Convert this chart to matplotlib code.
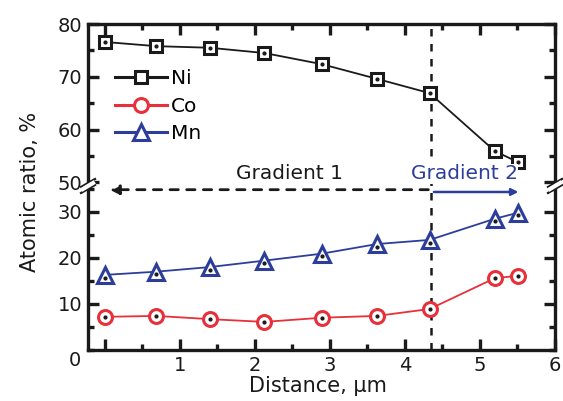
import matplotlib.pyplot as plt
from matplotlib.ticker import MultipleLocator
from matplotlib.lines import Line2D

plt.rcParams['font.family'] = 'DejaVu Sans'

# data
dist = [0.0, 0.69, 1.40, 2.13, 2.89, 3.63, 4.33, 5.20, 5.51]
ni = [76.6, 75.8, 75.5, 74.5, 72.4, 69.6, 66.9, 55.9, 53.8]
co = [7.2, 7.4, 6.7, 6.1, 7.0, 7.4, 8.9, 15.6, 16.1]
mn = [16.3, 17.0, 18.0, 19.4, 20.9, 23.0, 23.9, 28.5, 29.8]
boundary = 4.35

black = "#1a1a1a"
red = "#e8303a"
blue = "#2c3e9a"

W, H = 563, 401
fig = plt.figure(figsize=(W / 100, H / 100), dpi=100)

x0, x1 = 88 / W, 555 / W
ytop, ymid, ybot = 1 - 24 / H, 1 - 186 / H, 1 - 350 / H
ax_top = fig.add_axes([x0, ymid, x1 - x0, ytop - ymid])
ax_bot = fig.add_axes([x0, ybot, x1 - x0, ymid - ybot])

xlim = (-0.22, 6.0)
fs = 14

for ax in (ax_top, ax_bot):
    ax.set_xlim(*xlim)
    for s in ax.spines.values():
        s.set_linewidth(2.4)
        s.set_color(black)
    ax.xaxis.set_major_locator(MultipleLocator(1))
    ax.xaxis.set_minor_locator(MultipleLocator(0.5))
    ax.yaxis.set_major_locator(MultipleLocator(10))
    ax.yaxis.set_minor_locator(MultipleLocator(5))
    ax.tick_params(which='major', direction='in', length=8, width=2.4,
                   labelsize=fs, colors=black, pad=4)
    ax.tick_params(which='minor', direction='in', length=4, width=2.4, colors=black)

ax_top.set_ylim(49.3, 80)
ax_bot.set_ylim(0, 35.6)

ax_top.spines['bottom'].set_visible(False)
ax_bot.spines['top'].set_visible(False)
ax_top.tick_params(which='both', bottom=False, top=True, right=True,
                   labelbottom=False)
ax_top.set_yticks([50, 60, 70, 80])
ax_bot.tick_params(which='both', top=False, right=True)
ax_bot.set_yticks([10, 20, 30])
ax_bot.set_xticks([0, 0.5, 1.5, 2.5, 3.5, 4.5, 5.5], minor=True)
ax_bot.set_xticks([0, 1, 2, 3, 4, 5, 6])
ax_bot.set_xticklabels(['', '1', '2', '3', '4', '5', '6'])

ms = 9
mew = 2.2
# Ni
ax_top.plot(dist, ni, color=black, lw=1.3, marker='s', ms=ms, mfc='white',
            mec=black, mew=mew, zorder=3)
ax_top.plot(dist, ni, ls='none', marker='o', ms=2, color=black, zorder=4)
# Co
ax_bot.plot(dist, co, color=red, lw=1.3, marker='o', ms=ms + 1, mfc='white',
            mec=red, mew=mew, zorder=3)
ax_bot.plot(dist, co, ls='none', marker='o', ms=2, color=black, zorder=4)
# Mn
ax_bot.plot(dist, mn, color=blue, lw=1.3, marker='^', ms=ms + 3, mfc='white',
            mec=blue, mew=mew, zorder=3)
ax_bot.plot(dist, [v - 0.6 for v in mn], ls='none', marker='o',
            ms=2, color=black, zorder=4)

# boundary line
for ax in (ax_top, ax_bot):
    ax.axvline(boundary, color=black, ls=(0, (3, 3)), lw=1.8, zorder=2)

# gradient arrows
ax_bot.annotate('', xy=(0.03, 34.8), xytext=(boundary, 34.8),
                arrowprops=dict(arrowstyle='-|>', color=black, lw=2,
                                ls=(0, (3, 3)), mutation_scale=14), zorder=5)
ax_bot.annotate('', xy=(5.55, 34.3), xytext=(boundary, 34.3),
                arrowprops=dict(arrowstyle='-|>', color=blue, lw=1.8,
                                mutation_scale=10), zorder=5)
ax_top.text(2.47, 49.8, 'Gradient 1', fontsize=fs + 0.5, color=black,
            ha='center', va='bottom', backgroundcolor='white', zorder=6)
ax_top.text(4.79, 49.8, 'Gradient 2', fontsize=fs + 0.5, color=blue,
            ha='center', va='bottom', zorder=6,
            bbox=dict(facecolor='white', edgecolor='none', pad=0.5))

# legend
h_ni = Line2D([], [], color=black, lw=2.2, marker='s', ms=ms, mfc='white',
              mec=black, mew=mew)
h_co = Line2D([], [], color=red, lw=2.2, marker='o', ms=ms + 1, mfc='white',
              mec=red, mew=mew)
h_mn = Line2D([], [], color=blue, lw=2.2, marker='^', ms=ms + 3, mfc='white',
              mec=blue, mew=mew)
ax_top.legend([h_ni, h_co, h_mn], ['Ni', 'Co', 'Mn'], loc='upper left',
              bbox_to_anchor=(0.04, 0.77), frameon=False, fontsize=fs + 0.5,
              handlelength=2.6, handletextpad=0.2, labelspacing=0.42,
              borderaxespad=0)

# break marks
for xb in (x0, x1):
    for dy in (-3, 3):
        yb = ymid + dy / H
        fig.add_artist(Line2D([xb - 7 / W, xb + 7 / W], [yb - 4 / H, yb + 4 / H],
                              color=black, lw=1.6, transform=fig.transFigure))
    fig.add_artist(Line2D([xb - 5 / W, xb + 5 / W], [ymid - 3 / H, ymid + 3 / H],
                          color='white', lw=3, transform=fig.transFigure))

fig.text(75 / W, 1 - 360 / H, '0', fontsize=fs, ha='center', va='center', color=black)
fig.text(318 / W, 1 - 386 / H, 'Distance, µm', fontsize=fs + 1, ha='center',
         va='center', color=black)
fig.text(30 / W, 1 - 192 / H, 'Atomic ratio, %', fontsize=fs + 1, rotation=90,
         ha='center', va='center', color=black)

fig.savefig('out.png', dpi=100)
